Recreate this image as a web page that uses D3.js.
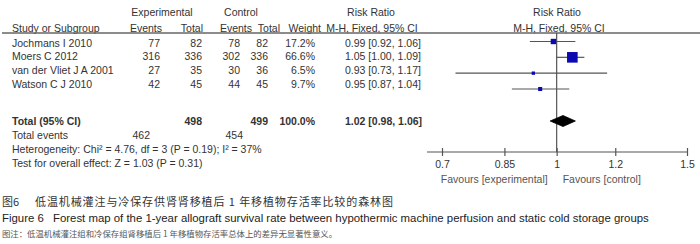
<!DOCTYPE html>
<html>
<head>
<meta charset="utf-8">
<script src="https://cdn.jsdelivr.net/npm/d3@7"></script>
<style>
  body { margin: 0; background: #fff; }
  svg { display: block; }
  text { font-family: "Liberation Sans", Arial, sans-serif; fill: #333; }
  .cjk { font-family: "Noto Sans CJK SC", sans-serif; }
</style>
</head>
<body>
<div class="forest_area"></div>
<script>
var studies = ["Jochmans I 2010", "Moers C 2012", "van der Vliet J A 2001", "Watson C J 2010"];
var expEvents = [77, 316, 27, 42];
var expTotal = [82, 336, 35, 45];
var ctlEvents = [78, 302, 30, 44];
var ctlTotal = [82, 336, 36, 45];
var weights = [17.2, 66.6, 6.5, 9.7];
var rr = [0.99, 1.05, 0.93, 0.95];
var rrLow = [0.92, 1.00, 0.73, 0.87];
var rrHigh = [1.06, 1.09, 1.17, 1.04];
var pooled = [1.02, 0.98, 1.06];
var sumTotals = [498, 499];
var sumEvents = [462, 454];
var axisTicks = [0.7, 0.85, 1, 1.2, 1.5];

var width = 700, height = 244;
var fs = 10.5;

var svg = d3.select(".forest_area").append("svg")
    .attr("width", width)
    .attr("height", height);

var f2 = d3.format(".2f");

// scales
var x = d3.scaleLog().domain([0.7, 1.5]).range([442, 687]);
var yText = d3.scalePoint().domain(studies).range([43, 84]);
var yPlot = d3.scalePoint().domain(studies).range([41.5, 89]);
var box = d3.scaleSqrt().domain([0, 100]).range([0, 13]);

var rowTotal = 121, rowEvents = 135, rowHet = 149, rowTest = 163;
var axisY = 152;

// header
var hdr1 = 12, hdr2 = 28, lineY = 33;
svg.append("text").attr("x", 162).attr("y", hdr1).attr("text-anchor", "middle").text("Experimental");
svg.append("text").attr("x", 241).attr("y", hdr1).attr("text-anchor", "middle").text("Control");
svg.append("text").attr("x", 371).attr("y", hdr1).attr("text-anchor", "middle").text("Risk Ratio");
svg.append("text").attr("x", 557).attr("y", hdr1).attr("text-anchor", "middle").text("Risk Ratio");

svg.append("text").attr("x", 12).attr("y", hdr2).text("Study or Subgroup");
svg.append("text").attr("x", 162).attr("y", hdr2).attr("text-anchor", "end").text("Events");
svg.append("text").attr("x", 203).attr("y", hdr2).attr("text-anchor", "end").text("Total");
svg.append("text").attr("x", 252).attr("y", hdr2).attr("text-anchor", "end").text("Events");
svg.append("text").attr("x", 280).attr("y", hdr2).attr("text-anchor", "end").text("Total");
svg.append("text").attr("x", 321).attr("y", hdr2).attr("text-anchor", "end").text("Weight");
svg.append("text").attr("x", 372).attr("y", hdr2).attr("text-anchor", "middle").text("M-H, Fixed, 95% CI");
svg.append("text").attr("x", 559).attr("y", hdr2).attr("text-anchor", "middle").text("M-H, Fixed, 95% CI");

svg.selectAll("text").style("font-size", fs + "px").attr("dy", "0.35em");

svg.append("line")
    .attr("x1", 2).attr("x2", width)
    .attr("y1", lineY).attr("y2", lineY)
    .attr("stroke", "#666").attr("stroke-width", 1.3);

// study rows
var rows = studies.map(function(s, i) {
    return {study: s, ee: expEvents[i], et: expTotal[i], ce: ctlEvents[i], ct: ctlTotal[i],
            w: weights[i], rr: rr[i], lo: rrLow[i], hi: rrHigh[i]};
});

var cols = [
    {x: 12, anchor: "start", v: function(d) { return d.study; }},
    {x: 160, anchor: "end", v: function(d) { return d.ee; }},
    {x: 202, anchor: "end", v: function(d) { return d.et; }},
    {x: 240, anchor: "end", v: function(d) { return d.ce; }},
    {x: 268, anchor: "end", v: function(d) { return d.ct; }},
    {x: 315, anchor: "end", v: function(d) { return d.w.toFixed(1) + "%"; }},
    {x: 345, anchor: "start", v: function(d) { return f2(d.rr) + " [" + f2(d.lo) + ", " + f2(d.hi) + "]"; }}
];

var tbl = svg.append("g");
cols.forEach(function(c) {
    tbl.selectAll(null)
        .data(rows)
        .enter()
        .append("text")
        .attr("x", c.x)
        .attr("y", function(d) { return yText(d.study); })
        .attr("dy", "0.35em")
        .attr("text-anchor", c.anchor)
        .style("font-size", fs + "px")
        .text(c.v);
});

// summary rows
var sum = svg.append("g");
sum.append("text").attr("x", 12).attr("y", rowTotal).style("font-weight", "bold").text("Total (95% CI)");
sum.append("text").attr("x", 202).attr("y", rowTotal).attr("text-anchor", "end").style("font-weight", "bold").text(sumTotals[0]);
sum.append("text").attr("x", 268).attr("y", rowTotal).attr("text-anchor", "end").style("font-weight", "bold").text(sumTotals[1]);
sum.append("text").attr("x", 315).attr("y", rowTotal).attr("text-anchor", "end").style("font-weight", "bold")
    .text(d3.sum(weights).toFixed(1) + "%");
sum.append("text").attr("x", 345).attr("y", rowTotal).style("font-weight", "bold")
    .text(f2(pooled[0]) + " [" + f2(pooled[1]) + ", " + f2(pooled[2]) + "]");
sum.append("text").attr("x", 12).attr("y", rowEvents).text("Total events");
sum.append("text").attr("x", 150).attr("y", rowEvents).attr("text-anchor", "end").text(sumEvents[0]);
sum.append("text").attr("x", 243).attr("y", rowEvents).attr("text-anchor", "end").text(sumEvents[1]);
sum.append("text").attr("x", 12).attr("y", rowHet).text("Heterogeneity: Chi\u00b2 = 4.76, df = 3 (P = 0.19); I\u00b2 = 37%");
sum.append("text").attr("x", 12).attr("y", rowTest).text("Test for overall effect: Z = 1.03 (P = 0.31)");
sum.selectAll("text").style("font-size", fs + "px").attr("dy", "0.35em");

// plot
var plot = svg.append("g");

plot.append("line")
    .attr("x1", x(1)).attr("x2", x(1))
    .attr("y1", lineY).attr("y2", axisY)
    .attr("stroke", "#555").attr("stroke-width", 1.2);

plot.selectAll(".ci")
    .data(rows)
    .enter()
    .append("line")
    .attr("class", "ci")
    .attr("x1", function(d) { return x(d.lo); })
    .attr("x2", function(d) { return x(d.hi); })
    .attr("y1", function(d) { return yPlot(d.study); })
    .attr("y2", function(d) { return yPlot(d.study); })
    .attr("stroke", "#555")
    .attr("stroke-width", 1.2);

plot.selectAll(".box")
    .data(rows)
    .enter()
    .append("rect")
    .attr("class", "box")
    .attr("x", function(d) { return x(d.rr) - box(d.w) / 2; })
    .attr("y", function(d) { return yPlot(d.study) - box(d.w) / 2; })
    .attr("width", function(d) { return box(d.w); })
    .attr("height", function(d) { return box(d.w); })
    .attr("fill", "#0a0ab0");

plot.append("path")
    .attr("d", "M" + x(pooled[1]) + "," + rowTotal +
               "L" + x(pooled[0]) + "," + (rowTotal - 5.5) +
               "L" + x(pooled[2]) + "," + rowTotal +
               "L" + x(pooled[0]) + "," + (rowTotal + 5.5) + "Z")
    .attr("fill", "#000")
    .attr("stroke", "#000")
    .attr("stroke-width", 0.8)
    .attr("stroke-linejoin", "round");

// axis
var xAxis = plot.append("g")
    .attr("transform", "translate(0," + axisY + ")")
    .call(d3.axisBottom(x).tickValues(axisTicks).tickFormat(d3.format("")).tickSizeInner(4).tickSizeOuter(0).tickPadding(5));

xAxis.select(".domain").remove();
xAxis.insert("line", ":first-child")
    .attr("x1", x(0.7) - 15).attr("x2", x(1.5) + 1)
    .attr("stroke", "#555").attr("stroke-width", 1.2);
xAxis.selectAll(".tick line").attr("y1", -4).attr("stroke", "#555").attr("stroke-width", 1.2);
xAxis.selectAll(".tick text")
    .style("font-size", fs + "px")
    .style("font-family", "'Liberation Sans', Arial, sans-serif")
    .attr("fill", "#444");

plot.append("text").attr("x", x(1) - 9).attr("y", 179).attr("dy", "0.35em")
    .attr("text-anchor", "end").style("font-size", fs + "px").style("fill", "#555")
    .text("Favours [experimental]");
plot.append("text").attr("x", x(1) + 6).attr("y", 179).attr("dy", "0.35em")
    .style("font-size", fs + "px").style("fill", "#555")
    .text("Favours [control]");

// captions
var cap = svg.append("g");
cap.append("text").attr("class", "cjk").attr("x", 2).attr("y", 202).attr("dy", "0.35em")
    .style("font-size", "11px").text("图6");
cap.append("text").attr("class", "cjk").attr("x", 35).attr("y", 202).attr("dy", "0.35em")
    .style("font-size", "11px").style("letter-spacing", "0.9px")
    .text("低温机械灌注与冷保存供肾肾移植后 1 年移植物存活率比较的森林图");
cap.append("text").attr("x", 2).attr("y", 218).attr("dy", "0.35em")
    .style("font-size", "11.4px").style("fill", "#222").text("Figure 6");
cap.append("text").attr("x", 53).attr("y", 218).attr("dy", "0.35em")
    .style("font-size", "11.4px").style("fill", "#222")
    .text("Forest map of the 1-year allograft survival rate between hypothermic machine perfusion and static cold storage groups");
cap.append("text").attr("class", "cjk").attr("x", 2).attr("y", 234).attr("dy", "0.35em")
    .style("font-size", "8.4px").style("fill", "#555")
    .text("图注：低温机械灌注组和冷保存组肾移植后 1 年移植物存活率总体上的差异无显著性意义。");
</script>
</body>
</html>
